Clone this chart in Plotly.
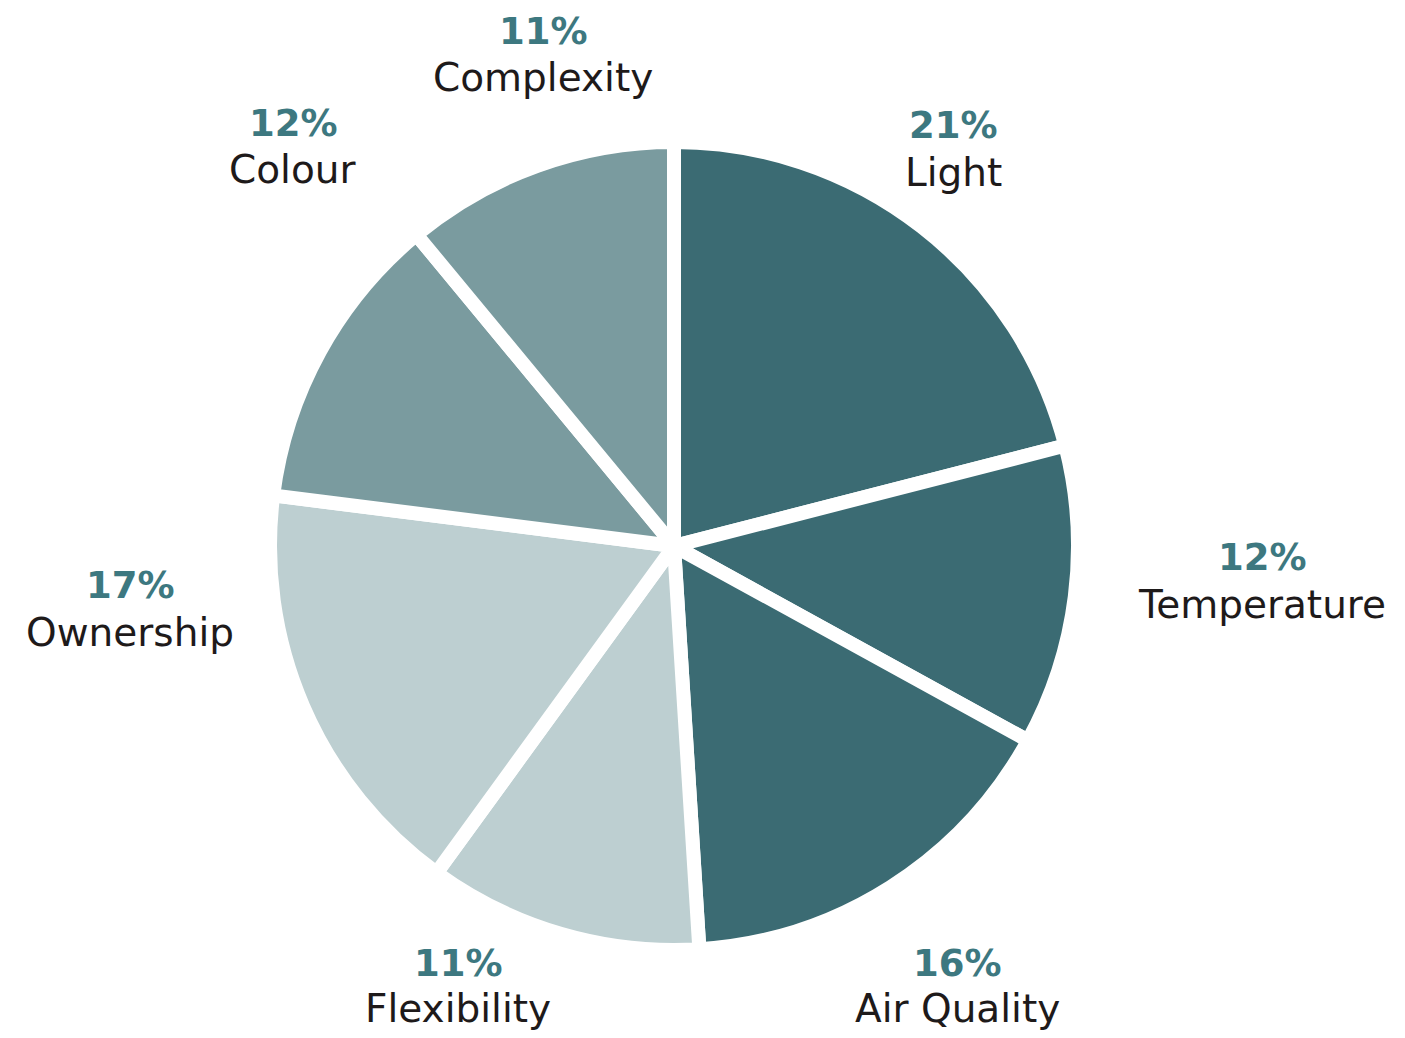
import plotly.graph_objects as go

labels = ["Light", "Temperature", "Air Quality", "Flexibility", "Ownership", "Colour", "Complexity"]
values = [21, 12, 16, 11, 17, 12, 11]
colors = ["#3b6b73", "#3b6b73", "#3b6b73", "#bdcfd1", "#bdcfd1", "#7a9b9f", "#7a9b9f"]
# label centres in page pixels (x, y of percentage line, y of name line)
label_pos = {
    "Light": (945, 117, 164),
    "Temperature": (1254, 549, 596),
    "Air Quality": (949, 955, 1000),
    "Flexibility": (450, 955, 1000),
    "Ownership": (122, 577, 624),
    "Colour": (285, 115, 162),
    "Complexity": (535, 24, 70),
}

W, H = 1405, 1038
cx, cy, r = 666, 538, 404

fig = go.Figure(go.Pie(
    labels=labels, values=values, sort=False, direction="clockwise", rotation=0,
    marker=dict(colors=colors, line=dict(color="white", width=14)),
    textinfo="none", hoverinfo="label+percent", showlegend=False,
    domain=dict(x=[(cx - r) / W, (cx + r) / W], y=[1 - (cy + r) / H, 1 - (cy - r) / H]),
))

for lab, val in zip(labels, values):
    px, py1, py2 = label_pos[lab]
    fig.add_annotation(
        x=px / W, y=1 - py1 / H, xref="paper", yref="paper", showarrow=False,
        xanchor="center", yanchor="middle", text=f"<b>{val}%</b>",
        font=dict(family="DejaVu Sans", size=37, color="#3d7880"),
    )
    fig.add_annotation(
        x=px / W, y=1 - py2 / H, xref="paper", yref="paper", showarrow=False,
        xanchor="center", yanchor="middle", text=lab,
        font=dict(family="DejaVu Sans", size=39, color="#1e1a1a"),
    )

fig.update_layout(
    width=W, height=H, margin=dict(l=0, r=0, t=0, b=0),
    paper_bgcolor="white", plot_bgcolor="white",
)
fig.write_html("out.html")
